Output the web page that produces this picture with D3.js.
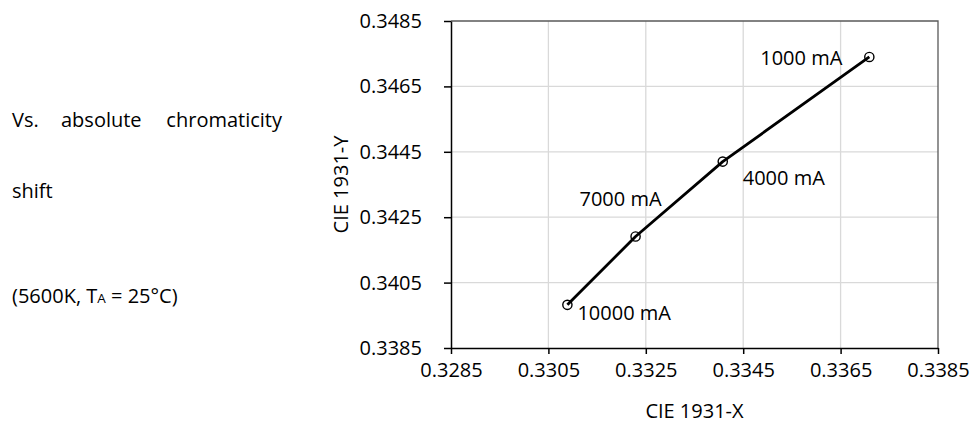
<!DOCTYPE html>
<html>
<head>
<meta charset="utf-8">
<script src="https://cdn.jsdelivr.net/npm/d3@7"></script>
<style>
  body { margin: 0; background: #fff; }
  text { font-family: "Open Sans", "Noto Sans", sans-serif; fill: #000; }
</style>
</head>
<body>
<div id="chart"></div>
<script>
// 色度漂移数据
const currents = ["1000 mA", "4000 mA", "7000 mA", "10000 mA"];
const cieX = [0.33709, 0.33408, 0.33229, 0.33089];
const cieY = [0.34740, 0.34420, 0.34191, 0.33982];
const xTicks = [0.3285, 0.3305, 0.3325, 0.3345, 0.3365, 0.3385];
const yTicks = [0.3385, 0.3405, 0.3425, 0.3445, 0.3465, 0.3485];

// 标签相对点的偏移
const labelPos = [
  { dx: -27, dy: 8, anchor: "end" },
  { dx: 20, dy: 23, anchor: "start" },
  { dx: 26, dy: -30, anchor: "end" },
  { dx: 10, dy: 15, anchor: "start" }
];

const width = 971, height = 423;
const plot = { left: 451, right: 938, top: 21, bottom: 348 };
const fs = 20;

const svg = d3.select("#chart").append("svg")
    .attr("width", width)
    .attr("height", height);

// 左侧说明文字
const note = svg.append("g").attr("font-size", fs);
note.append("text").attr("x", 12).attr("y", 127).text("Vs.");
note.append("text").attr("x", 61).attr("y", 127).text("absolute");
note.append("text").attr("x", 282).attr("y", 127).attr("text-anchor", "end").text("chromaticity");
note.append("text").attr("x", 12).attr("y", 198).text("shift");
const cond = note.append("text").attr("x", 12).attr("y", 303);
cond.append("tspan").text("(5600K, T");
cond.append("tspan").attr("font-size", 13.5).text("A");
cond.append("tspan").text(" = 25°C)");

const x = d3.scaleLinear().domain([0.3285, 0.3385]).range([plot.left, plot.right]);
const y = d3.scaleLinear().domain([0.3385, 0.3485]).range([plot.bottom, plot.top]);

// 网格
svg.append("g").selectAll("line")
   .data(xTicks.slice(1, -1))
   .enter().append("line")
   .attr("x1", d => x(d)).attr("x2", d => x(d))
   .attr("y1", plot.top).attr("y2", plot.bottom)
   .attr("stroke", "#d9d9d9").attr("stroke-width", 1.3);

svg.append("g").selectAll("line")
   .data(yTicks.slice(1, -1))
   .enter().append("line")
   .attr("x1", plot.left).attr("x2", plot.right)
   .attr("y1", d => y(d)).attr("y2", d => y(d))
   .attr("stroke", "#d9d9d9").attr("stroke-width", 1.3);

// 外框
svg.append("path")
   .attr("d", `M${plot.left},${plot.top}H${plot.right}V${plot.bottom}`)
   .attr("fill", "none")
   .attr("stroke", "#595959")
   .attr("stroke-width", 1.3);

// 坐标轴
const xAxis = svg.append("g")
    .attr("transform", `translate(0,${plot.bottom})`)
    .call(d3.axisBottom(x).tickValues(xTicks).tickFormat(d3.format(".4f")).tickSize(6).tickPadding(9).tickSizeOuter(0));
const yAxis = svg.append("g")
    .attr("transform", `translate(${plot.left},0)`)
    .call(d3.axisLeft(y).tickValues(yTicks).tickFormat(d3.format(".4f")).tickSize(7).tickPadding(22).tickSizeOuter(0));

[xAxis, yAxis].forEach(a => {
  a.attr("font-family", null);
  a.select(".domain").attr("stroke", "#000").attr("stroke-width", 1.5);
  a.selectAll(".tick line").attr("stroke", "#000").attr("stroke-width", 1.5);
  a.selectAll(".tick text").attr("font-size", fs).attr("fill", "#000");
});

svg.append("text")
   .attr("x", (plot.left + plot.right) / 2).attr("y", 418)
   .attr("text-anchor", "middle").attr("font-size", fs)
   .text("CIE 1931-X");
svg.append("text")
   .attr("transform", `translate(348,${(plot.top + plot.bottom) / 2}) rotate(-90)`)
   .attr("text-anchor", "middle").attr("font-size", fs)
   .text("CIE 1931-Y");

// 折线和标记
const points = currents.map((c, i) => ({ label: c, x: cieX[i], y: cieY[i], pos: labelPos[i] }));

const line = d3.line()
    .x(d => x(d.x))
    .y(d => y(d.y));

svg.append("path")
   .datum(points)
   .attr("d", line)
   .attr("fill", "none")
   .attr("stroke", "#000")
   .attr("stroke-width", 2.8)
   .attr("stroke-linejoin", "round");

svg.append("g").selectAll("circle")
   .data(points)
   .enter().append("circle")
   .attr("cx", d => x(d.x))
   .attr("cy", d => y(d.y))
   .attr("r", 4.6)
   .attr("fill", "none")
   .attr("stroke", "#000")
   .attr("stroke-width", 1.4);

svg.append("g").selectAll("text")
   .data(points)
   .enter().append("text")
   .attr("x", d => x(d.x) + d.pos.dx)
   .attr("y", d => y(d.y) + d.pos.dy)
   .attr("text-anchor", d => d.pos.anchor)
   .attr("font-size", fs)
   .text(d => d.label);
</script>
</body>
</html>
